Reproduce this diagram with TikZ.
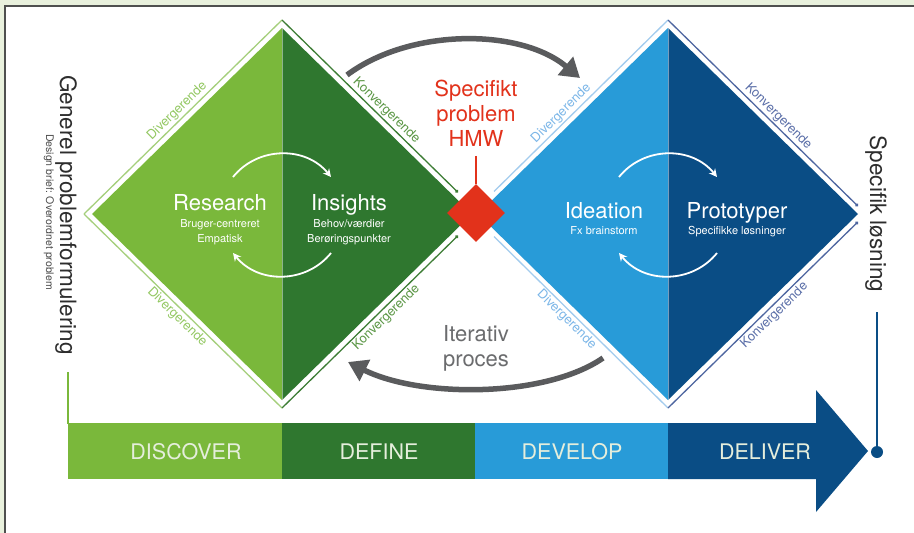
\documentclass[tikz,border=0pt]{standalone}
\usepackage{fontspec}
\setmainfont{TeX Gyre Heros}
\usetikzlibrary{arrows.meta,positioning,shapes.geometric}
\definecolor{lgreen}{HTML}{7AB83B}
\definecolor{dgreen}{HTML}{2F772F}
\definecolor{lblue}{HTML}{289BD8}
\definecolor{dblue}{HTML}{0A4D85}
\definecolor{hmwred}{HTML}{E2321B}
\definecolor{arcgray}{HTML}{5A5B5D}
\definecolor{itergray}{HTML}{6B6C6E}
\definecolor{framebg}{HTML}{E9F1DD}
\definecolor{framegray}{HTML}{4F504F}
\definecolor{lrim}{HTML}{A5CF7C}
\definecolor{drim}{HTML}{3D7D35}
\definecolor{brim}{HTML}{A3CCEE}
\definecolor{nrim}{HTML}{4E66A0}
\definecolor{ldivtext}{HTML}{93C862}
\definecolor{lkontext}{HTML}{5A9644}
\definecolor{bdivtext}{HTML}{7BB6E8}
\definecolor{bkontext}{HTML}{5A6EA8}
\definecolor{phasetext}{HTML}{E5EEDC}
\definecolor{sidetext}{HTML}{2D2D2D}
\tikzset{
  title/.style={text=white,font=\fontsize{22}{26}\selectfont,anchor=base,inner sep=0pt},
  subtitle/.style={text=white,font=\fontsize{11}{15}\selectfont,align=center,inner sep=0pt},
  phase/.style={text=phasetext,font=\fontsize{21.5}{24}\selectfont,inner sep=0pt},
  sidelabel/.style={text=sidetext,font=\fontsize{22.5}{26}\selectfont,rotate=-90,inner sep=0pt},
  rimlabel/.style={font=\fontsize{13}{13}\selectfont,inner sep=0pt,sloped},
  rim/.style={line width=1.3pt},
  kondot/.style={rim,-{Circle[length=3.4pt]}},
  loop arrow/.style={white,line width=1.8pt,-{Stealth[length=8pt,width=8pt]}},
  iter arrow/.style={arcgray,line width=5.5pt,-{Triangle[length=19pt,width=23pt]}},
  bigtext/.style={font=\fontsize{22}{25}\selectfont,align=center,inner sep=0pt}
}
\begin{document}
\begin{tikzpicture}[x=1pt,y=-1pt]
  \useasboundingbox (0,0) rectangle (914,533);
  \fill [framebg] (0,0) rectangle (914,533);
  \fill [white] (5,6) rectangle (914,533);
  \draw [framegray,line width=1.6pt] (5,533) -- (5,6) -- (914,6);

  \coordinate (gl) at (92,214);  \coordinate (gt) at (282,28);
  \coordinate (gb) at (282,400); \coordinate (gr) at (472,214);
  \coordinate (bl) at (478,214); \coordinate (bt) at (668,28);
  \coordinate (bb) at (668,400); \coordinate (br) at (858,214);

  \fill [lgreen] (gl) -- (gt) -- (gb) -- cycle;
  \fill [dgreen] (gt) -- (gr) -- (gb) -- cycle;
  \fill [lblue] (bl) -- (bt) -- (bb) -- cycle;
  \fill [dblue] (bt) -- (br) -- (bb) -- cycle;
  \draw [white,opacity=.45,line width=.8pt] (gt) -- (gb);
  \draw [white,opacity=.45,line width=.8pt] (bt) -- (bb);

  \coordinate (glo) at (84,214);  \coordinate (gto) at (282,20);
  \coordinate (gbo) at (282,408); \coordinate (gre) at (458,192.4);
  \coordinate (grf) at (458,235.6);
  \coordinate (ble) at (494,191.5); \coordinate (blf) at (494,236.5);
  \coordinate (bto) at (668,20);    \coordinate (bbo) at (668,408);
  \coordinate (bre) at (858,206.2); \coordinate (brf) at (858,221.8);

  \draw [rim,lrim] (glo) -- (gto)
    node [rimlabel,midway,above=1.5pt,text=ldivtext] {Divergerende};
  \draw [rim,lrim] (glo) -- (gbo)
    node [rimlabel,midway,below=1.5pt,text=ldivtext] {Divergerende};
  \draw [kondot,drim] (gto) -- (gre)
    node [rimlabel,pos=.56,above=1.5pt,text=lkontext] {Konvergerende};
  \draw [kondot,drim] (gbo) -- (grf)
    node [rimlabel,pos=.56,below=1.5pt,text=lkontext] {Konvergerende};
  \draw [rim,brim] (ble) -- (bto)
    node [rimlabel,pos=.42,above=1.5pt,text=bdivtext] {Divergerende};
  \draw [rim,brim] (blf) -- (bbo)
    node [rimlabel,pos=.45,below=1.5pt,text=bdivtext] {Divergerende};
  \draw [kondot,nrim] (bto) -- (bre)
    node [rimlabel,pos=.55,above=1.5pt,text=bkontext] {Konvergerende};
  \draw [kondot,nrim] (bbo) -- (brf)
    node [rimlabel,pos=.53,below=1.5pt,text=bkontext] {Konvergerende};

  \coordinate (gloopa) at (233,177); \coordinate (gloopb) at (331,177);
  \coordinate (gloopc) at (331,253); \coordinate (gloopd) at (233,253);
  \coordinate (bloopa) at (619,177); \coordinate (bloopb) at (717,177);
  \coordinate (bloopc) at (717,253); \coordinate (bloopd) at (619,253);
  \draw [loop arrow] (gloopa) .. controls (258,146) and (306,146) .. (gloopb);
  \draw [loop arrow] (gloopc) .. controls (306,284) and (258,284) .. (gloopd);
  \draw [loop arrow] (bloopa) .. controls (644,146) and (692,146) .. (bloopb);
  \draw [loop arrow] (bloopc) .. controls (692,284) and (644,284) .. (bloopd);

  \node [title] (research) at (220,210) {Research};
  \node [subtitle,below=9pt of research.base] (researchsub) {Bruger-centreret\\Empatisk};
  \node [title] (insights) at (349,210) {Insights};
  \node [subtitle,below=9pt of insights.base] (insightssub) {Behov/værdier\\Berøringspunkter};
  \node [title] (ideation) at (604,218) {Ideation};
  \node [subtitle,below=8pt of ideation.base] (ideationsub) {Fx brainstorm};
  \node [title] (prototyper) at (737,218) {Prototyper};
  \node [subtitle,below=8pt of prototyper.base] (prototypersub) {Specifikke løsninger};

  \node [diamond,fill=hmwred,minimum size=58pt,inner sep=0pt] (hmw) at (476,213) {};
  \node [bigtext,text=hmwred,anchor=north] (hmwlabel) at (476,80) {Specifikt\\problem\\HMW};
  \draw [hmwred,line width=1.6pt] ([yshift=-9pt]hmwlabel.south) -- (hmw.north);

  \coordinate (iterstart) at (347,75); \coordinate (iterend) at (580,78);
  \coordinate (backstart) at (603,358); \coordinate (backend) at (348,362);
  \draw [iter arrow] (iterstart) .. controls (410,28) and (520,28) .. (iterend);
  \draw [iter arrow] (backstart) .. controls (545,398) and (420,398) .. (backend);
  \node [bigtext,text=itergray,anchor=north] (iterlabel) at (476,325) {Iterativ\\proces};

  \fill [lgreen] (68,423) rectangle (282,479);
  \fill [dgreen] (282,423) rectangle (475,479);
  \fill [lblue] (475,423) rectangle (668,479);
  \fill [dblue] (668,423) -- (816,423) -- (816,390) -- (868,451)
    -- (816,512) -- (816,479) -- (668,479) -- cycle;
  \node [phase] (discover) at (186,452) {DISCOVER};
  \node [phase] (define) at (379,452) {DEFINE};
  \node [phase] (develop) at (572,452) {DEVELOP};
  \node [phase] (deliver) at (765,452) {DELIVER};

  \node [sidelabel] (problemlabel) at (66,215) {Generel problemformulering};
  \node [sidelabel,font=\fontsize{10.5}{12}\selectfont,text=sidetext!85] (brieflabel) at (49,212)
    {Design brief: Overordnet problem};
  \node [sidelabel] (solutionlabel) at (876,214) {Specifik løsning};
  \coordinate (starttop) at (68,372); \coordinate (barstart) at (68,424);
  \draw [lgreen,line width=2pt] (starttop) -- (barstart);
  \node [circle,fill=dblue,minimum size=12pt,inner sep=0pt] (enddot) at (877,452) {};
  \coordinate (endtop) at (877,312);
  \draw [dblue,line width=2pt] (endtop) -- (enddot);
\end{tikzpicture}
\end{document}
